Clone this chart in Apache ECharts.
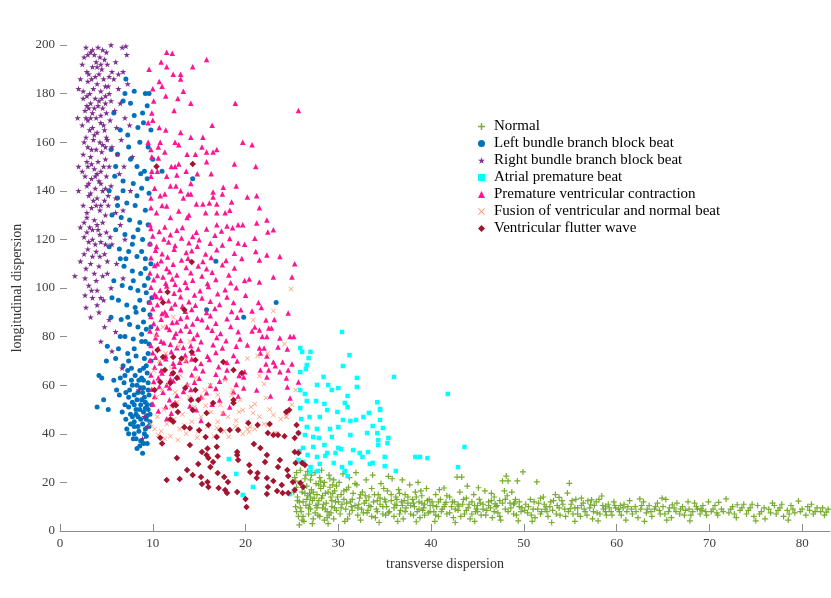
<!DOCTYPE html>
<html>
<head>
<meta charset="utf-8">
<script src="https://cdn.jsdelivr.net/npm/echarts@6/dist/echarts.min.js"></script>
<style>
  html, body { margin: 0; padding: 0; background: #fff; }
  #main { width: 831px; height: 598px; }
</style>
</head>
<body>
<div id="main"></div>
<script>
var names = ['Normal', 'Left bundle branch block beat', 'Right bundle branch block beat',
    'Atrial premature beat', 'Premature ventricular contraction',
    'Fusion of ventricular and normal beat', 'Ventricular flutter wave'];
var xTicks = [0, 10, 20, 30, 40, 50, 60, 70, 80];

// points: [transverse, longitudinal]
var normal = [
    [25.3,22],[25.5,18],[25.6,14],[25.4,10],[25.7,6],[25.9,25],[26.0,20],[26.1,16],[26.2,12],[26.0,8],[26.3,4],[26.5,23],
    [26.6,18.5],[26.7,14.5],[26.5,10.5],[26.8,7],[27.0,21],[27.1,17],[27.2,12.5],[27.0,9],[27.3,5],[27.5,24],[27.6,19.5],
    [27.7,15],[27.8,11],[27.5,7.5],[28.0,22],[28.1,17.5],[28.2,13.5],[28.3,9.5],[28.0,6],[28.5,20],[28.6,15.5],[28.7,11.5],
    [28.8,8],[28.5,4.5],[29.0,23],[29.1,18],[29.2,14],[29.3,10],[29.0,6.5],[29.5,21],[29.6,16.5],[29.7,12],[29.8,8.5],
    [29.5,5],[25.8,2.5],[27.2,3],[28.9,3],[26.4,21.5],[27.9,19],[29.4,19],[25.2,16],[26.9,11],[28.4,11],[29.9,14],[26.2,6],
    [27.4,13.5],[28.9,16],[25.8,12],[27.7,9.5],[29.2,7.5],[26.7,24.5],[28.2,25],[25.5,8],[26.9,15.5],
    [25.4,20.5],[25.6,12.5],[25.9,9.5],[26.1,4.5],[26.3,18],[26.6,13],[26.8,9.5],[27.1,23],[27.3,16],[27.6,10.5],
    [27.8,6.5],[28.1,20.5],[28.3,14.5],[28.6,9],[28.8,5.5],[29.1,21.5],[29.3,12.5],[29.6,9.5],[29.8,18.5],[25.5,24],
    [27.0,14],[28.4,18.5],[29.4,15.5],[26.4,15.5],[27.9,12.5],
    [30.1,20],[30.3,15],[30.4,11],[30.2,7],[30.6,13],[30.8,9],[30.9,17],[31.0,5],[31.2,22],[31.3,12],[31.5,8.5],[31.6,15.5],
    [31.8,10.5],[32.0,19],[32.1,6.5],[32.3,13.5],[32.5,9],[32.6,16],[32.8,11.5],[33.0,21],[33.1,7.5],[33.3,14],[33.5,10],
    [33.6,17.5],[33.8,12],[34.0,5.5],[34.1,9],[34.3,15],[34.5,11],[34.6,19.5],[34.8,7],[35.0,13],[35.2,10],[35.3,16.5],
    [35.5,8],[35.7,12.5],[35.8,21.5],[36.0,6],[36.2,14],[36.3,10.5],[36.5,17],[36.7,8.5],[36.8,12],[37.0,5],[37.2,15],
    [37.3,9.5],[37.5,11.5],[37.7,19],[37.8,7],[38.0,13],[38.2,10],[38.3,16],[38.5,8],[38.7,12],[38.8,5.5],[39.0,14.5],
    [39.2,9.5],[39.3,11],[39.5,17.5],[39.7,7.5],[39.8,13],[30.5,23.5],[31.9,24],[33.7,23],[35.4,22.5],[36.9,21],[38.6,20],
    [30.7,4],[32.4,4.5],[34.4,3.5],[36.4,4],[38.4,3.8],[31.1,18],[32.9,14.5],[34.9,17.5],[36.6,15.5],[38.9,16.5],[31.4,10],
    [33.2,8.5],[35.1,6.5],[37.1,12.5],[39.1,8.5],[30.0,12],[32.2,11],[34.2,12.5],[36.1,11],[38.1,11.5],[39.9,10.5],
    [30.3,9.5],[30.6,16.5],[30.9,11.5],[31.2,7],[31.5,13],[31.8,19.5],[32.1,9.5],[32.4,15],[32.7,7.5],[33.0,12.5],
    [33.3,10.5],[33.6,6],[33.9,15],[34.2,8],[34.5,13.5],[34.8,10],[35.1,12],[35.4,7.5],[35.7,15],[36.0,9.5],[36.3,13],
    [36.6,7],[36.9,10.5],[37.2,8],[37.5,14],[37.8,10.5],[38.1,6.5],[38.4,14],[38.7,9],[39.0,11.5],[39.3,6.5],[39.6,12.5],
    [39.9,8],
    [40.1,12],[40.3,8],[40.5,15],[40.6,10],[40.8,6],[41.0,13],[41.2,9],[41.4,17.7],[41.5,11],[41.7,7],[42.0,14],[42.2,10],
    [42.4,5.5],[42.5,12],[42.8,22.2],[42.9,8.5],[43.1,16],[43.3,22.2],[43.4,11],[43.6,7],[43.8,13.5],[44.0,9.5],[44.2,5],
    [44.4,12],[44.6,15],[44.8,8],[45.0,10.5],[45.2,13],[45.4,6.5],[45.6,11],[45.8,16.5],[46.0,8.5],[46.2,12],[46.4,9.5],
    [46.6,5.5],[46.8,14],[47.0,10],[47.2,7.5],[47.4,12.5],[47.7,20.6],[47.9,16.5],[48.0,9],[48.1,22.6],[48.3,20.6],
    [48.5,11.5],[48.7,16],[48.9,7],[49.1,13],[49.3,20.6],[49.5,10],[49.7,8],[49.9,24.3],[40.4,4],[42.6,3.5],[44.7,4],
    [47.5,4.5],[49.4,4.2],[40.9,17],[43.9,18.5],[45.1,17.8],[46.5,15.5],[48.2,14.5],[41.6,11.8],[43.0,10.2],[44.9,9],
    [46.9,11.2],[49.0,11.5],
    [40.2,10.5],[40.5,6.5],[40.8,12],[41.1,8],[41.4,10],[41.7,14.5],[42.0,7.5],[42.3,12],[42.6,9],[42.9,11],[43.2,6],
    [43.5,13],[43.8,8.5],[44.1,11],[44.4,7],[44.7,10.5],[45.0,8],[45.3,11.5],[45.6,9],[45.9,6.5],[46.2,10.5],[46.5,12.5],
    [46.8,8],[47.1,10.5],[47.4,6],[47.7,11.5],[48.0,13],[48.3,8],[48.6,9.5],[48.9,11],[49.2,6.5],[49.5,12],[49.8,9.5],
    [50.2,11],[50.4,7.5],[50.7,13],[51.0,9],[51.2,5.5],[51.4,20.2],[51.6,11.5],[51.9,8],[52.1,14],[52.4,10],[52.6,6],
    [52.9,12],[53.1,8.5],[53.4,15],[53.6,10.5],[53.9,6.5],[54.1,12.5],[54.4,9],[54.7,15.6],[54.9,19.6],[55.1,11],[55.3,7],
    [55.6,13],[55.8,9.5],[56.1,6],[56.4,11.5],[56.6,8],[56.9,12.5],[57.1,9.5],[57.4,5],[57.6,10.5],[57.9,7.5],[58.1,13],
    [58.4,14.4],[58.6,9],[58.9,6.5],[59.1,11],[59.4,8],[59.7,12],[59.9,9.5],[50.9,4],[53.0,3.5],[55.5,4],[58.0,4.2],
    [51.8,13.5],[53.8,13.8],[56.2,13.5],[57.3,12.8],[52.3,9],[55.0,9.2],[58.8,10.2],
    [50.1,8.5],[50.5,10],[50.8,6.5],[51.1,12],[51.5,9],[51.8,7],[52.2,11],[52.5,8],[52.8,10],[53.2,12.5],[53.5,7],
    [53.8,9.5],[54.2,11],[54.5,6],[54.8,8],[55.2,12.5],[55.5,9.5],[55.8,7],[56.2,10.5],[56.5,9],[56.8,6.5],[57.2,11],
    [57.5,8],[57.8,12],[58.2,7],[58.5,10.5],[58.8,8],[59.2,9.5],[59.5,6.5],[59.8,10.5],
    [60.2,9],[60.5,6.5],[60.8,11],[61.1,8],[61.4,12.5],[61.7,7],[62.0,10],[62.3,5.5],[62.6,9],[62.9,12],[63.2,7.5],
    [63.5,10.5],[63.8,6],[64.1,9],[64.4,11.5],[64.7,7],[65.0,10],[65.3,13],[65.6,8],[65.9,5.5],[66.2,9.5],[66.5,11.5],
    [66.8,7],[67.1,10],[67.4,8.5],[67.7,12],[68.0,6.5],[68.4,11.5],[68.7,9],[69.0,7],[69.3,10.5],[69.6,8],[69.9,12],
    [61.0,4.5],[63.0,4],[65.4,4.5],[67.9,4.2],[62.5,13.2],[64.9,13.5],[60.4,10.5],[66.0,10.8],[69.1,9.2],
    [60.3,8],[60.7,9.5],[61.2,10],[61.6,9],[62.1,8],[62.7,10.5],[63.3,9],[63.7,8],[64.2,10],[64.6,8.5],[65.2,7],[65.7,9.5],
    [66.4,8],[66.9,9],[67.3,6.5],[67.8,9],[68.2,8],[68.6,10],[69.2,8.5],[69.7,6.5],
    [70.2,8],[70.6,10.5],[70.9,6.5],[71.3,9],[71.8,13.2],[72.1,7.5],[72.5,10],[72.9,5.5],[73.3,8.5],[73.7,11],[74.0,7],
    [74.4,9.5],[74.8,6],[75.2,10.5],[75.6,8],[76.0,5],[76.4,9],[76.8,11.5],[77.2,7],[77.6,9.5],[78.0,6],[78.4,8.5],
    [78.8,10.5],[79.2,7.5],[79.6,12.3],[80.0,9],[80.4,6.5],[80.8,8.5],[81.2,7],[81.6,9.5],[82.0,8],[82.4,6.5],[82.8,9],
    [75.0,4.2],[78.5,4.5],[71.0,11.8],[73.0,10.8],[77.0,10.5],[81.0,11],[82.6,7.8],
    [70.4,9],[70.8,7.5],[71.5,8],[72.3,9],[72.7,7],[73.5,9.5],[74.2,8.5],[74.6,11],[75.4,7],[75.9,9.5],[76.6,7.5],
    [77.4,8.5],[77.8,11],[78.6,7],[79.0,9],[79.8,8],[80.6,10],[81.4,8],[82.2,9.5]
];

var lbbb = [
    [7.0,180],[9.2,180],[6.8,177],[9.4,175],[5.8,172],[8.0,171],[9.0,168],[6.5,165],[7.3,163],[8.6,160],[9.5,158],[5.5,157],
    [6.2,155],[7.6,153],[8.3,150],[9.1,148],[5.9,146],[6.8,144],[7.9,143],[8.8,141],[9.6,139],[6.2,137],[7.2,135],[8.1,134],
    [9.2,132],[5.6,130],[6.6,129],[7.5,128],[8.6,127],[9.5,126],[6.0,124],[7.0,122],[7.9,121],[8.9,120],[9.7,118],[5.3,117],
    [6.4,116],[7.4,115],[8.3,113],[9.2,112],[9.8,110],[6.9,109],[7.8,107],[8.7,106],[9.5,104],[5.8,103],[6.7,101],[7.6,100],
    [8.4,99],[9.3,98],[9.9,96],[6.3,95],[7.2,93],[8.1,92],[9.0,91],[9.7,89],[5.5,88],[6.6,87],[7.5,85],[8.4,84],[9.3,83],
    [7.0,80],[7.9,79],[8.8,78],[9.6,77],[5.1,76],[6.3,75],[7.3,73],[8.2,72],[9.1,71],[9.8,70],[6.8,68],[7.7,67],[8.6,66],
    [9.4,65],[4.5,63],[5.8,62],[6.9,61],[7.8,60],[8.7,59],[9.5,58],[6.4,56],[7.4,55],[8.3,54],[9.2,53],[9.9,52],[5.2,50],
    [6.7,49],[7.6,48],[8.4,47],[9.3,46],[8.0,45],[8.9,44],[9.6,43],[7.2,42],[8.5,41],[9.1,40],[7.9,38],[8.7,37],[9.4,36],
    [8.3,34],[8.9,32],[4.7,54],[4.0,51],[5.0,70],[4.2,64],[8.2,90],[9.0,86],[8.5,62],[9.0,62],[8.9,57],[9.5,61],[8.6,50],
    [9.7,48],[8.0,52],[9.0,67],[9.6,94],[9.1,101],[8.8,115],[9.8,84],[7.5,58],[7.1,46],[9.5,73],[9.2,78],
    [8.1,64],[8.8,63],[9.3,68],[7.3,66],[8.4,57],[9.1,55],[7.8,53],[8.7,52],[9.5,50],[8.2,48],[9.0,49],[7.6,44],[8.4,43],
    [9.2,42],[8.0,40],[9.7,45],[7.0,64],[6.1,58],[6.0,71],[6.5,80],[5.6,96],[7.1,112],[6.2,134],[8.3,138],[9.4,145],
    [8.4,166],[8.9,172],[7.6,176],[9.8,165],[10.0,153],
    [7.7,62],[8.3,60],[9.0,59],[9.6,56],[7.1,57],[8.0,56],[8.8,54],[9.4,52],[7.4,51],[8.2,50],[9.2,50.5],[7.8,47],[8.7,46],
    [9.4,47.5],[7.4,40],[8.2,38],[9.0,36],[8.6,35],[9.3,39],[8.0,43],[7.0,52],[6.5,63],[7.4,70],[8.0,75],[8.8,81],[7.3,88],
    [8.6,95],[7.9,103],[9.2,108],[6.5,112],[7.8,118],[8.4,124],[6.8,140],[8.7,147],[7.4,158],[5.3,140],[6.0,150],[9.6,180],
    [8.0,181],[7.1,186],
    [19.8,88],[23.3,94],[15.8,91],[14.3,145],[11,148],[16.8,111]
];

var rbbb = [
    [2.8,199],[3.3,197],[4.1,199],[4.6,198],[5.5,200],[7.1,199.5],[3.7,196],[4.3,195],[2.6,195],[3.9,193],[4.8,194],[5.1,192],
    [3.5,191],[4.5,190],[6.0,193],[3.1,188],[4.2,188],[5.6,189],[6.8,189],[2.2,186],[3.0,185],[4.0,184],[4.7,186],[5.8,186],
    [7.3,184],[2.0,182],[3.6,182],[4.4,181],[5.2,183],[6.3,182],[2.9,179],[3.8,178],[4.9,179],[5.5,177],[3.3,176],[4.1,175],
    [4.6,174],[6.5,176],[2.7,173],[3.5,172],[5.0,172],[5.9,173],[3.0,169],[3.9,170],[4.4,168],[5.4,169],[2.4,167],[3.2,165],
    [4.0,164],[4.8,165],[6.1,166],[7.5,167],[2.8,162],[3.6,161],[4.3,160],[5.1,161],[6.6,161],[3.0,158],[3.9,157],[4.5,156],
    [5.6,158],[2.5,155],[3.3,154],[4.1,152],[4.9,153],[6.2,155],[7.8,154],[3.0,150],[3.7,149],[4.4,148],[5.3,150],[2.7,146],
    [3.4,145],[4.2,144],[5.0,146],[6.4,147],[2.9,142],[3.8,141],[4.6,140],[5.5,142],[3.1,138],[4.0,137],[4.8,136],[2.5,134],
    [3.4,133],[4.3,132],[5.2,134],[6.0,131],[2.9,129],[3.7,128],[4.6,127],[3.2,125],[4.1,124],[5.0,123],[6.5,126],[2.6,121],
    [3.5,120],[4.4,119],[5.4,121],[3.0,116],[3.9,115],[4.8,114],[2.2,111],[3.3,110],[4.2,109],[5.1,111],[3.7,106],[4.6,105],
    [2.7,104],[3.1,101],[4.0,99],[5.5,100],[3.5,96],[4.7,95],[2.8,92],[4.2,90],[5.3,87],[4.8,84],[6.0,82],[5.6,74],[6.7,67],
    [4.4,78],[8.5,58],[9.1,47],[9.4,43],[8.9,38],[7.0,120],[7.6,140],[6.9,150],[7.2,196],[2.0,150],[1.9,170],
    [3.5,198],[5.0,197],[2.4,192],[4.0,191],[5.3,187],[3.4,186],[2.5,178],[4.2,177],[5.3,180],[3.1,174],[4.4,171],[2.8,170],
    [3.5,166],[5.0,162],[4.6,159],[3.4,157],[2.9,152],[4.7,150],[3.8,146],[4.4,143],[3.3,139],[5.2,138],[3.9,134],[4.9,130],
    [2.6,127],[3.5,124],[4.3,122],[3.1,119],[4.3,113],[2.8,108],[3.9,103],[4.4,96],[3.3,88],[5.6,118],[6.1,110],[6.8,104],
    [5.1,106],[6.0,137],[6.8,132],[7.0,170],[6.3,188],[6.7,199],[2.0,140],[2.2,125],[1.6,105],
    [3.0,196],[4.4,192],[2.9,189],[3.8,187],[4.9,183],[2.5,181],[3.2,180],[4.5,178],[3.7,174],[2.9,175],[4.9,176],[3.3,170],
    [4.7,167],[3.7,163],[2.6,160],[4.9,158],[3.4,151],[4.0,147],[2.4,148],[3.1,143],[4.9,141],[3.6,136],[4.4,134],[2.9,131],
    [4.0,126],[2.9,123],[3.8,118],[4.9,118],[3.5,113],[2.6,114],[3.4,99],[4.0,93],[2.7,97]
];

var apb = [
    [30.4,81.9],[31.2,72.4],[30.5,67.9],[26.8,71.2],[26.1,73.7],[25.9,75.3],[26.5,66.7],[25.9,65.4],[36,63.4],[41.8,56.4],
    [28.9,60.1],[29.3,58],[30,58.8],[31,55.6],[32,59.3],[34.2,53],[34.5,50.2],[26.4,56.4],[25.9,58],[26.6,53.5],[27.6,53.5],
    [28.5,52.3],[30.7,52.7],[31,51],[29.9,49],[28.8,49.8],[28,46.9],[26.9,46.9],[25.9,50.6],[33.3,48.6],[34.5,45.7],
    [34.8,42.4],[33.7,43.2],[32.7,46.9],[31.9,45.7],[31.3,45.3],[30.5,45.7],[30,42.8],[29.1,42],[27.7,42],[26.6,42.8],
    [26,46.1],[25.7,40.3],[26.4,39.5],[27.3,38.7],[27.9,38.3],[28.5,35.4],[27.3,34.6],[26.2,34.2],[25.8,32.9],[26.7,31.3],
    [27.7,30.5],[28.6,30.9],[29.7,32.1],[30,34.2],[30.3,33.7],[31.6,33.3],[32.3,32.1],[33.2,32.5],[34.3,35.4],[35.3,36.2],
    [35.4,38.3],[34.3,37.4],[32.6,30.5],[33.4,27.6],[33.7,28],[35,26.7],[31.3,28],[30.4,26.3],[29.5,28],[28,27.6],[27,26.3],
    [26.2,28.4],[25.7,29.2],[27,24.3],[27.8,24.7],[30.7,24.7],[31,22.6],[36.2,24.7],[38.3,30.5],[38.8,30.5],[39.6,30],
    [42.9,26.3],[43.6,34.6],[28.4,63.4],[27,73.7],[26.6,68.3],[27.7,60.1],[32,63],[34.5,49.8],[34.2,40.3],[35,30.5],
    [33.1,40.3],[31.3,39.5],[29.3,38.7],[28.8,32.1],[24.8,15.2],[18.2,29.6],[19,23.5],[19.7,14.8],[20.8,18.1]
];

var pvc = [
    [11.5,197],[12.1,196.6],[15.8,194],[14.3,191],[10.9,193],[11.5,191],[9.6,190],[12.2,188],[13,188],[13,186],[10.7,185],
    [11,183],[10,182],[13.3,181],[11.4,179],[12.7,178],[10.1,177],[14.1,176],[18.9,176],[25.7,173],[12.3,173],[9.9,172],
    [10,169],[9.5,168],[10.7,166],[11.4,165],[16.4,167],[13,164],[14.1,162],[15.4,162],[9.5,160],[10.8,160],[12.4,160],
    [12.8,159],[19.7,160],[20.7,159],[9.8,157],[10.6,158],[15.3,158],[16.9,157],[11.3,156],[13.7,155],[14.6,155],[15.8,156],
    [16.5,156],[9.9,154],[10.6,153.5],[15.8,152],[12.8,151],[12,150],[12.4,150],[18.8,151],[21.1,150],[9.9,148],[10.5,148],
    [13.6,148],[14.8,147],[16.3,147],[11.5,146],[12.6,146.5],[9.8,146],[14.1,143],[11.9,142],[12.5,142],[17.6,141.5],
    [19,142],[10.2,141],[13,140],[16.5,139.5],[17.5,138.7],[20.2,137.5],[21.2,138],[11.3,138.7],[10.8,138],[13.3,137],
    [13.8,138.7],[14.1,138.7],[16.5,137.5],[9.8,137],[18.5,135.4],[15.4,134.6],[14.7,134.6],[16.9,134.6],[16.1,135],
    [11,134],[11.5,133.7],[21.5,133],[9.8,133],[10.4,131],[12.8,131.7],[13.9,130],[15.7,131],[16.9,131],[17.8,131],
    [18.3,132],[11.9,129],[13.7,129],[22.3,128],[19.2,126],[19.7,126],[21.2,126.7],[16.9,126],[18,125.5],[9.7,126],
    [22.4,123],[23,124],[21,120.5],[19.9,118],[21.1,115],[22.3,113.6],[23.7,113],[21.5,111.5],[25.3,110],[23,104.5],
    [25,104.5],[20.4,103.7],[21.5,102.5],[20,97],[21.4,94],[21.7,92],[20.7,90.5],[24.6,89.7],[22.2,86.8],[23.1,87],
    [22.5,83.5],[22.8,83.5],[21,84],[21.5,82.7],[20.7,82.3],[22.3,80],[21.8,80],[23.7,79.4],[24.8,80],[25.2,80],[20.2,76.5],
    [21.5,75.3],[22,75.3],[23.5,75.7],[24.5,74.9],[21.6,73.3],[22.3,72],[23,69.5],[24,69.5],[25,68.7],[22.2,68.7],[23.2,68],
    [21.6,66.3],[22.5,66.3],[24.6,66.3],[23.7,65.5],[19.9,65.5],[19.8,63.4],[22.3,63.4],[24.4,63],[25.7,61.3],[24.5,59.3],
    [19.8,58.8],[21.2,58],[22.7,55.6],[24.8,54.7],
    [9.8,124.5],[10.7,123.2],[11.3,125.1],[12.6,123.8],[13.2,124.9],[14.7,122.9],[15.8,124.3],[17.4,123.5],[18.6,124.8],
    [10.0,121.4],[11.2,120.2],[11.9,121.9],[13.1,120.6],[14.3,121.2],[15.0,119.9],[16.7,121.7],[18.3,120.4],
    [9.7,118.3],[10.4,117.1],[11.7,118.9],[12.4,117.5],[13.9,118.6],[14.8,117.2],[16.2,118.4],[17.5,117.7],[19.2,118.5],
    [10.3,115.5],[11.0,114.1],[12.3,115.9],[13.6,114.6],[14.2,115.3],[15.7,114.0],[16.9,115.7],[18.8,114.3],
    [9.8,112.4],[10.9,111.2],[11.6,112.8],[13.1,111.5],[13.8,112.2],[15.4,110.9],[16.3,112.6],[17.9,111.3],[19.6,112.1],
    [10.2,109.3],[11.5,108.0],[12.2,109.8],[13.6,108.4],[14.9,109.1],[15.8,107.9],[17.5,109.6],[18.8,108.2],
    [9.7,106.2],[10.5,105.1],[11.8,106.7],[12.6,105.4],[14.1,106.3],[15.3,104.9],[16.4,106.5],[18.2,105.3],
    [10.1,103.4],[11.4,102.0],[12.1,103.7],[13.5,102.4],[14.3,103.2],[15.9,101.9],[16.8,103.5],[18.4,102.2],[19.9,103.1],
    [9.8,100.3],[10.8,99.1],[11.5,100.8],[12.9,99.4],[13.7,100.2],[15.1,98.9],[16.0,100.6],[17.8,99.3],[19.0,100.1],
    [10.2,97.4],[10.9,96.0],[12.3,97.8],[13.0,96.4],[14.5,97.1],[15.3,95.9],[17.0,97.6],[18.0,96.3],
    [9.7,94.2],[10.5,93.1],[11.7,94.8],[12.4,93.4],[13.9,94.3],[14.6,92.9],[16.2,94.5],[17.2,93.2],[18.7,94.0],
    [10.0,91.5],[11.3,90.1],[12.0,91.8],[13.5,90.4],[14.2,91.2],[15.8,89.9],[16.7,91.6],[18.5,90.3],[19.5,91.0],
    [9.8,88.3],[10.9,87.1],[11.5,88.9],[13.0,87.4],[13.7,88.2],[15.3,86.9],[16.2,88.6],[18.0,87.3],[19.1,88.0],
    [10.1,85.4],[11.5,84.0],[12.1,85.8],[13.6,84.4],[14.3,85.2],[15.9,83.9],[16.8,85.5],[18.4,84.2],
    [9.7,82.3],[10.4,81.1],[11.8,82.9],[12.5,81.4],[14.0,82.2],[14.8,80.9],[16.4,82.6],[17.3,81.3],[19.2,82.0],
    [10.3,79.5],[10.9,78.1],[12.3,79.8],[13.0,78.4],[14.4,79.2],[15.2,77.9],[16.9,79.6],[17.9,78.3],[19.4,79.0],
    [9.8,76.3],[10.6,75.1],[11.9,76.9],[12.6,75.4],[14.1,76.2],[14.9,74.9],[16.5,76.6],[17.5,75.3],[19.0,76.0],
    [10.0,73.4],[11.4,72.0],[12.0,73.8],[13.5,72.4],[14.3,73.2],[15.9,71.9],[16.8,73.5],[18.7,72.2],
    [9.7,70.3],[10.8,69.1],[11.4,70.9],[12.9,69.4],[13.6,70.2],[15.2,68.9],[16.1,70.6],[18.0,69.3],[19.1,70.0],
    [10.2,67.4],[10.9,66.0],[12.3,67.8],[13.0,66.4],[14.6,67.1],[15.4,65.9],[17.1,67.6],[18.0,66.3],
    [9.8,64.2],[10.6,63.1],[12.0,64.8],[12.7,63.4],[14.2,64.3],[15.0,62.9],[16.8,64.5],[17.8,63.2],[19.3,64.0],
    [10.1,61.5],[11.5,60.1],[12.2,61.8],[13.7,60.4],[14.5,61.2],[16.2,59.9],[17.2,61.6],[19.0,60.3],
    [9.9,58.3],[11.1,57.1],[11.8,58.9],[13.3,57.4],[14.1,58.2],[15.8,56.9],[16.8,58.6],[18.7,57.3],
    [10.2,55.4],[11.8,54.0],[12.6,55.8],[14.2,54.4],[15.2,55.2],[17.2,53.9],[19.2,55.5],
    [10.0,52.3],[11.4,51.1],[12.4,52.9],[14.0,51.4],[16.4,52.2],[18.3,51.0],
    [10.6,49.4],[12.0,48.5],[14.7,49.9],[17.6,48.6],[11.5,46.2],[15.2,45.5],
    [10.4,96.5],[11.0,89.5],[10.5,83.5],[11.2,77.5],[10.3,71.5],[11.0,65],[12.6,86],[12.2,69],[10.5,110],[11.1,104.5],
    [13.2,92.5],[13.3,75.5],[14.8,87.6],[11.9,62.5],[10.7,59.5],[13.0,82.5],[12.4,101.5],[14.2,70.8]
];

var fusion = [
    [9.8,44],[10.2,42],[10.5,47],[10.9,41],[11.2,50],[11.5,44],[11.9,39],[12.3,46],[12.6,53],[12.9,42],[13.2,48],[13.6,40],
    [13.9,55],[14.2,45],[14.5,51],[14.9,41],[15.2,47],[15.6,58],[15.9,43],[16.3,49],[16.6,39],[17.0,45],[17.3,52],[17.7,41],
    [18.1,47],[18.5,56],[18.9,43],[19.3,49],[19.7,40],[20.2,45],[20.6,51],[21.0,42],[21.5,47],[22.0,44],[22.6,50],[23.2,40],
    [23.8,46],[24.4,47],[25.0,52],[25.4,58],[10.4,55],[11.0,58],[11.7,61],[12.4,57],[13.0,64],[13.8,60],[14.6,63],[15.4,55],
    [16.2,60],[17.0,56],[17.8,62],[18.6,58],[19.4,54],[10.1,66],[10.7,70],[11.4,73],[12.0,67],[12.8,76],[13.5,70],[10.3,80],
    [11.1,84],[12.2,88],[14.0,78],[24.9,99.6],[23,90.5],[20.8,86.8],[22.4,73],[21.3,72],[20.2,71],[21.5,63.8],[22,60.5],
    [22.2,54.7],[21,52.3],[20.8,48.6],[23,47.7],[24.4,47],[22.4,43.6],[20.5,42.8],[20.2,42],[23.2,40.3],[23.4,40],
    [20.4,40.7],[19.7,49.8],[24.2,77],[11.3,38],[12.7,37.5],[14.8,38.5],[16.9,42.5],[18.2,38.8],[13.4,43.5],[15.7,51.5],
    [17.5,48.5],[19.0,45.5],[12.0,51],[10.6,39.5]
];

var vf = [
    [11.5,21],[12.6,30],[14,35.4],[11,36],[10.8,38.4],[11.9,46],[12.2,45],[13.4,42.7],[14,42.3],[15,41.5],[16,43.6],
    [17.3,41.6],[18.3,41.6],[19.2,41.6],[20.3,44.4],[22.4,40.3],[23,39.5],[23.5,39.5],[24.2,39],[24.4,49],[25.5,43.6],
    [25.7,40.3],[25.3,38.3],[14.9,53.9],[12.5,51.8],[14.1,53.9],[18.7,53.9],[15.9,34],[16.9,34.7],[15.3,32.5],[15.8,31.3],
    [17,30.8],[16.5,28.4],[14.9,27.6],[16.2,26.3],[15.2,22.2],[15.9,20.2],[15.3,19.3],[16,18.1],[18,15.6],[17.8,16.9],
    [19.1,16],[20,13.2],[20.1,9.9],[19.1,31.3],[19.2,29.2],[19.1,32.5],[20.4,27.2],[20.5,24.3],[20.9,35.8],[21.6,34.2],
    [22.3,31.3],[22.1,28.4],[21.3,23.9],[21.2,21.8],[22.3,21.8],[23,20.6],[22.4,18.1],[22.3,15.2],[23.4,16.5],[23.9,18.9],
    [23.7,29.2],[23.5,26.3],[24.5,25.1],[24.6,22.6],[25.1,20.2],[25.9,19.8],[26.2,18.1],[25.3,16.9],[24.6,15.6],[24,15.6],
    [25.4,28],[26.1,28],[26.4,27.2],[25.7,32.1],[25.3,32.5],[17.7,22.2],[17,23.9],[18.1,20.2],[17.1,17.7],[12.9,21.4],
    [14.3,23],[13.7,25.1],[15.7,38.7],[16.9,38.7],[16,30],
    [14.2,110.7],[13.4,91],[11.6,98.4],[11.1,94],[10.5,74.5],[11.1,71.6],[12.2,71.6],[13.1,71],[14.2,73.7],[14.6,70.4],
    [11.3,66.3],[12.2,65],[10.8,61.3],[11.9,60.9],[12.6,63],[13.5,58.8],[14.6,58],[17.6,69.5],[18.7,66.3],[19.6,65],
    [10.2,58],[12.2,51.8],[12.7,49],[14.3,49.8],[15.8,48.6],[16.5,52.7],[18.7,52.7],[21.3,43.6],[22.6,44],[24.4,49],
    [24.7,49.8],[10.4,150],[14.3,151]
];

var starPath = 'path://M50,0L61,35L98,35L68,57L79,91L50,70L21,91L32,57L2,35L39,35Z';
var plusPath = 'path://M4,0H6V4H10V6H6V10H4V6H0V4H4Z';
var crossPath = 'path://M0,1L1,0L5,4L9,0L10,1L6,5L10,9L9,10L5,6L1,10L0,9L4,5Z';

var chart = echarts.init(document.getElementById('main'));

function makeSeries(name, data, symbol, size, color) {
    return {
        name: name,
        type: 'scatter',
        data: data,
        symbol: symbol,
        symbolSize: size,
        symbolKeepAspect: true,
        itemStyle: { color: color, opacity: 1 },
        emphasis: { disabled: true },
        animation: false
    };
}

var option = {
    backgroundColor: '#fff',
    textStyle: { fontFamily: 'Liberation Serif' },
    grid: { left: 60, right: 1, top: 45, bottom: 67 },
    legend: {
        orient: 'vertical',
        left: 473,
        top: 114,
        itemWidth: 7,
        itemHeight: 7,
        itemGap: 2,
        textStyle: { fontFamily: 'Liberation Serif', fontSize: 15, color: '#000', lineHeight: 15, padding: [0, 0, 0, 4] },
        data: names
    },
    xAxis: {
        type: 'value',
        min: 0,
        max: 83,
        name: 'transverse dispersion',
        nameLocation: 'middle',
        nameGap: 26,
        nameTextStyle: { fontFamily: 'Liberation Serif', fontSize: 14, color: '#333' },
        axisLine: { show: true, lineStyle: { color: '#8c8c8c', width: 1 } },
        axisTick: { show: true, inside: true, length: 7, lineStyle: { color: '#8c8c8c' }, customValues: xTicks },
        axisLabel: { fontFamily: 'Liberation Serif', fontSize: 13, color: '#404040', margin: 6, customValues: xTicks },
        splitLine: { show: false }
    },
    yAxis: {
        type: 'value',
        min: 0,
        max: 200,
        interval: 20,
        name: 'longitudinal dispersion',
        nameLocation: 'middle',
        nameGap: 36,
        nameTextStyle: { fontFamily: 'Liberation Serif', fontSize: 14, color: '#333' },
        axisLine: { show: false },
        axisTick: { show: true, inside: true, length: 7, lineStyle: { color: '#8c8c8c' } },
        axisLabel: { fontFamily: 'Liberation Serif', fontSize: 13, color: '#404040', margin: 5 },
        splitLine: { show: false }
    },
    series: [
        makeSeries(names[0], normal, plusPath, 6, '#77AC30'),
        makeSeries(names[1], lbbb, 'circle', 5, '#0072BD'),
        makeSeries(names[2], rbbb, starPath, 6.5, '#7E2F8E'),
        makeSeries(names[3], apb, 'rect', 4.5, '#00FFFF'),
        makeSeries(names[4], pvc, 'triangle', 5.5, '#FF1493'),
        makeSeries(names[5], fusion, crossPath, 5, '#FFA07A'),
        makeSeries(names[6], vf, 'diamond', 6.5, '#A2142F')
    ]
};

chart.setOption(option);
</script>
</body>
</html>
